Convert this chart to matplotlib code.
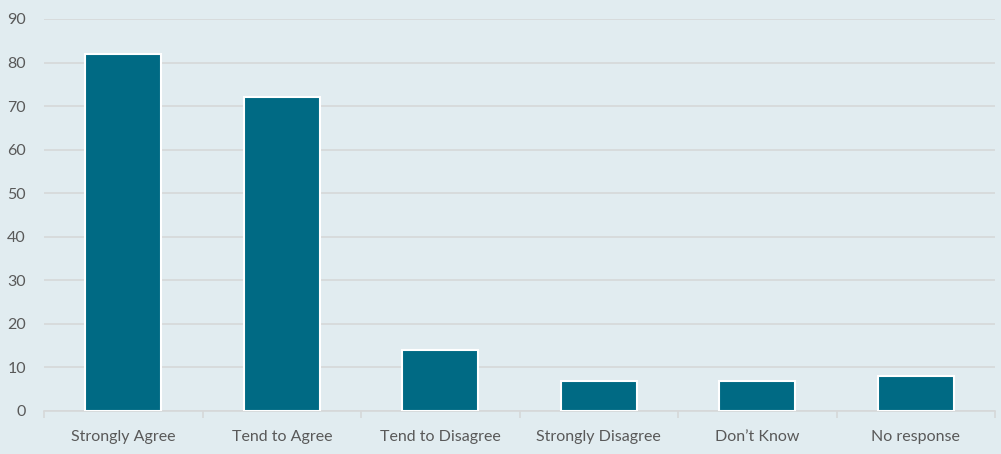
import matplotlib.pyplot as plt
import numpy as np

categories = ["Strongly Agree", "Tend to Agree", "Tend to Disagree",
              "Strongly Disagree", "Don\u2019t Know", "No response"]
values = [82, 72, 14, 7, 7, 8]
y_ticks = [0, 10, 20, 30, 40, 50, 60, 70, 80, 90]

bg = "#e1ecf0"
bar_color = "#006a84"
grid_color = "#d6d8d9"
text_color = "#595959"

fig = plt.figure(figsize=(10.01, 4.54), dpi=100, facecolor=bg)
ax = fig.add_axes([44 / 1001, 43 / 454, 951 / 1001, 392 / 454], facecolor=bg)

x = np.arange(len(categories))
ax.bar(x, values, width=0.48, color=bar_color, edgecolor="white", linewidth=1.5, zorder=3)

ax.set_xlim(-0.5, len(categories) - 0.5)
ax.set_ylim(0, 90)
ax.set_yticks(y_ticks)
ax.set_xticks(x)
ax.set_xticklabels(categories)
ax.set_xticks(np.arange(len(categories) + 1) - 0.5, minor=True)

ax.grid(axis="y", color=grid_color, linewidth=1.2, zorder=0)
for side in ["top", "right", "left"]:
    ax.spines[side].set_visible(False)
ax.spines["bottom"].set_color(grid_color)
ax.spines["bottom"].set_linewidth(1.2)

ax.tick_params(axis="y", length=0, pad=13, labelsize=11.5, labelcolor=text_color)
ax.tick_params(axis="x", which="major", length=0, pad=14, labelsize=11.5, labelcolor=text_color)
ax.tick_params(axis="x", which="minor", length=5, color=grid_color, width=1.2)
for lbl in ax.get_xticklabels() + ax.get_yticklabels():
    lbl.set_fontfamily("Lato")

fig.savefig("out.png", dpi=100, facecolor=bg)
